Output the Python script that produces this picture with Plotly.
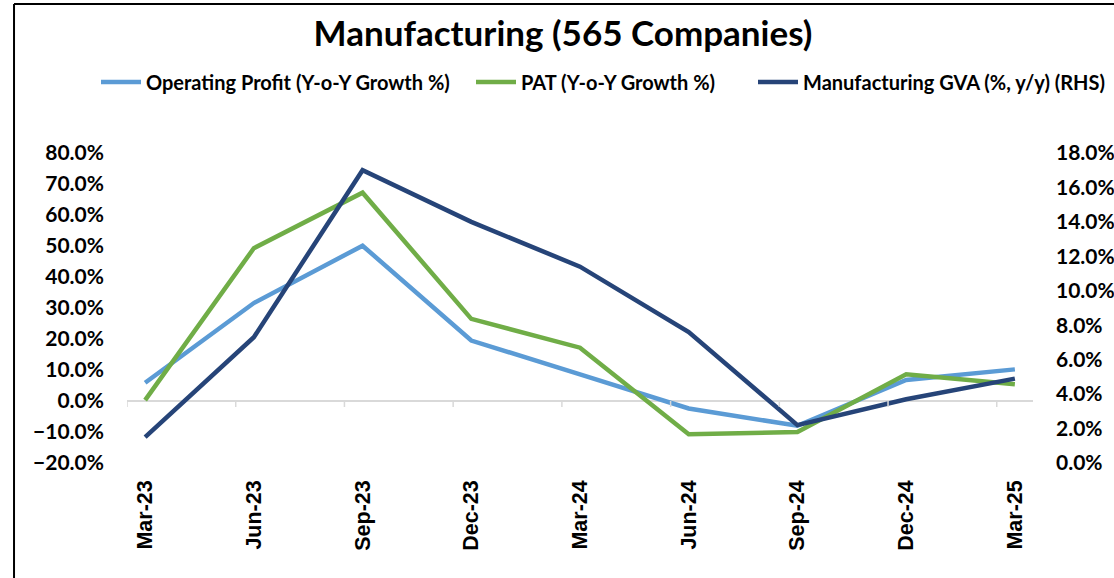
import plotly.graph_objects as go

categories = ["Mar-23", "Jun-23", "Sep-23", "Dec-23", "Mar-24", "Jun-24", "Sep-24", "Dec-24", "Mar-25"]
month_index = [0, 3, 6, 9, 12, 15, 18, 21, 24]
operating_profit = [5.9, 31.6, 50.1, 19.5, 8.6, -2.4, -8.0, 6.8, 10.2]
pat = [0.3, 49.3, 67.2, 26.5, 17.2, -10.7, -10.0, 8.6, 5.4]
mfg_gva = [1.5, 7.3, 17.0, 14.0, 11.4, 7.6, 2.2, 3.7, 4.9]

TXT = "Lato"
fig = go.Figure()
fig.add_trace(go.Scatter(x=month_index, y=operating_profit, mode="lines",
                         name="Operating Profit (Y-o-Y Growth %)", legend="legend",
                         line=dict(color="#5B9BD5", width=4.5)))
fig.add_trace(go.Scatter(x=month_index, y=pat, mode="lines",
                         name="PAT (Y-o-Y Growth %)", legend="legend2",
                         line=dict(color="#70AD47", width=4.5)))
fig.add_trace(go.Scatter(x=month_index, y=mfg_gva, mode="lines",
                         name="Manufacturing GVA (%, y/y) (RHS)", legend="legend3",
                         line=dict(color="#264478", width=4.5), yaxis="y2"))

shapes = []
# axis tick marks on zero line at month-slot boundaries
for m in month_index:
    shapes.append(dict(type="line", xref="x", yref="y", x0=m - 0.5, x1=m - 0.5,
                       ysizemode="pixel", yanchor=0, y0=0, y1=-6,
                       line=dict(color="#D9D9D9", width=1.5)))
# chart frame (left and top)
shapes.append(dict(type="line", xref="paper", yref="paper", x0=-0.1247, x1=-0.1247,
                   y0=-0.5, y1=1.4806, line=dict(color="black", width=2)))
shapes.append(dict(type="line", xref="paper", yref="paper", x0=-0.1247, x1=1.2,
                   y0=1.4806, y1=1.4806, line=dict(color="black", width=2)))


def legend_at(px_left):
    return dict(orientation="h", x=(px_left - 127) / 906, xanchor="left", xref="paper",
                y=(463 - 82) / 310, yanchor="middle", yref="paper",
                font=dict(family=TXT, size=20, color="black", weight="bold"),
                itemwidth=40, bgcolor="rgba(0,0,0,0)")


fig.update_layout(
    width=1114, height=578,
    margin=dict(l=127, r=81, t=153, b=115, autoexpand=False),
    paper_bgcolor="white", plot_bgcolor="white",
    title=dict(text="<b>Manufacturing (565 Companies)</b>", x=563 / 1114, xanchor="center",
               xref="container", y=1 - 34 / 578, yanchor="middle", yref="container",
               font=dict(family=TXT, size=35, color="black")),
    legend=legend_at(96),
    legend2=legend_at(471),
    legend3=legend_at(753),
    xaxis=dict(range=[-0.5, 24.5], tickvals=month_index, ticktext=categories,
               tickangle=-90, showgrid=False, showline=False, zeroline=False,
               ticks="", ticklabelstandoff=12,
               tickfont=dict(family="Liberation Sans", size=21.5, color="black", weight="bold")),
    yaxis=dict(range=[-20, 80], dtick=10, tick0=0, tickformat=".1f", ticksuffix="%",
               showgrid=False, showline=False, zeroline=True, zerolinecolor="#D9D9D9",
               zerolinewidth=1.5, ticks="", ticklabelstandoff=22,
               tickfont=dict(family=TXT, size=21, color="black", weight="bold")),
    yaxis2=dict(range=[0, 18], dtick=2, tick0=0, tickformat=".1f", ticksuffix="%",
                overlaying="y", side="right", showgrid=False, showline=False,
                zeroline=False, ticks="", ticklabelstandoff=22,
                tickfont=dict(family=TXT, size=21, color="black", weight="bold")),
    shapes=shapes,
    showlegend=True,
)

fig.write_html("out.html", config={"displayModeBar": False},
               post_script="document.body.style.margin='0px';")
